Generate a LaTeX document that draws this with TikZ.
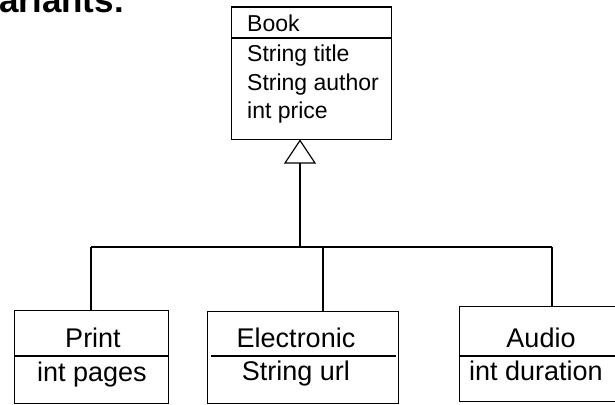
\documentclass[tikz,border=0pt]{standalone}
\usepackage{fontspec}
\setmainfont{Liberation Sans}
\begin{document}
\begin{tikzpicture}[x=1pt,y=-1pt,
  umlbox/.style={draw, line width=1.2pt, inner sep=0pt, anchor=north west},
  link/.style={line width=1.2pt},
  attr/.style={anchor=base west, inner sep=0pt, font=\fontsize{23}{28}\selectfont},
  cls/.style={anchor=base, inner sep=0pt, font=\fontsize{27}{32}\selectfont}]
\useasboundingbox (0,0) rectangle (615,404);

% heading, mostly above the top edge
\node[anchor=base west, inner sep=0pt, font=\bfseries\fontsize{35}{40}\selectfont] (heading) at (-1,13) {ariants:};

% superclass
\node[umlbox, minimum width=160pt, minimum height=132.5pt] (book) at (231,6.5) {};
\draw[link] ([yshift=-31.5pt]book.north west) -- ([yshift=-31.5pt]book.north east);
\node[attr] (bookname) at (247,32) {Book};
\node[attr] (booktitle) at (247,61) {String title};
\node[attr] (bookauthor) at (247,90) {String author};
\node[attr] (bookprice) at (247,118) {int price};

% inheritance arrow head and stem
\coordinate (apex) at (300,140.5);
\coordinate (triL) at (285,163);
\coordinate (triR) at (315,163);
\coordinate (triB) at (300,163);
\draw[link, line join=miter] (apex) -- (triL) -- (triR) -- cycle;
\coordinate (hub) at (300,247);
\draw[link] (triB) -- (hub);

% subclasses
\node[umlbox, minimum width=154pt, minimum height=93pt] (print) at (14,310) {};
\draw[link] ([yshift=-46pt]print.north west) -- ([yshift=-46pt]print.north east);
\node[cls] (printname) at (93,347) {Print};
\node[cls] (printattr) at (92,381) {int pages};

\node[umlbox, minimum width=191pt, minimum height=92pt] (elec) at (207,311) {};
\draw[link] ([xshift=4pt,yshift=-45pt]elec.north west) -- ([xshift=-3pt,yshift=-45pt]elec.north east);
\node[cls] (elecname) at (296,347) {Electronic};
\node[cls] (elecattr) at (296,380) {String url};

\node[umlbox, minimum width=190pt, minimum height=95pt] (audio) at (459,306) {};
\draw[link] ([yshift=-50pt]audio.north west) -- ([yshift=-50pt]audio.north east);
\node[cls] (audioname) at (541,347) {Audio};
\node[cls] (audioattr) at (536,380) {int duration};

% bus connecting the subclasses
\coordinate (busL) at (91,247);
\coordinate (busM) at (323,247);
\coordinate (busR) at (552,247);
\draw[link] (busL) -- (busR);
\draw[link] (busL) -- (busL |- print.north);
\draw[link] (busM) -- (busM |- elec.north);
\draw[link] (busR) -- (busR |- audio.north);
\end{tikzpicture}
\end{document}
